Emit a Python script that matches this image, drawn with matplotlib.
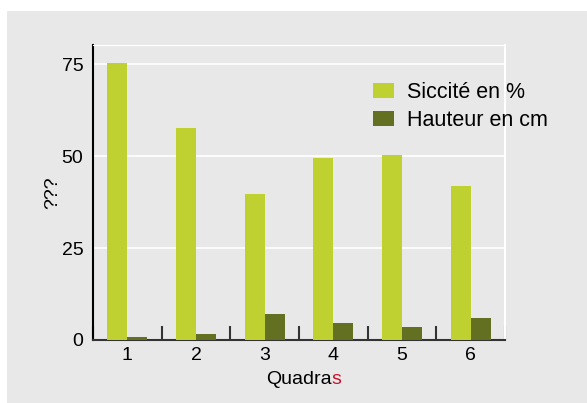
import matplotlib
matplotlib.use('Agg')
import matplotlib.pyplot as plt
import numpy as np
from matplotlib.patches import Rectangle

plt.rcParams['font.family'] = ['Liberation Sans', 'DejaVu Sans']

quadras = ['1', '2', '3', '4', '5', '6']
siccite = [75.3, 57.6, 39.7, 49.5, 50.3, 41.8]
hauteur = [0.8, 1.7, 7.2, 4.7, 3.5, 6.0]

fs = 14

fig = plt.figure(figsize=(5.87, 4.03), dpi=100)
fig.patch.set_facecolor('white')
# grey panel behind everything
fig.patches.append(Rectangle((7/587, 0), 1, 1 - 11/403, transform=fig.transFigure,
                             facecolor='#e8e8e8', edgecolor='none', zorder=-10))

ax = fig.add_axes([93/587, 1 - 340/403, (505 - 93)/587, (340 - 45)/403])
ax.set_facecolor('#e8e8e8')

x = np.arange(len(quadras))
w = 0.29
ax.bar(x - w/2, siccite, w, color='#bfd130', label='Siccité en %', zorder=3)
ax.bar(x + w/2, hauteur, w, color='#647021', label='Hauteur en cm', zorder=3)

ax.set_xlim(-0.5, len(quadras) - 0.5)
ax.set_ylim(0, 80.2)
ax.set_yticks([0, 25, 50, 75])
ax.tick_params(axis='y', length=0, labelsize=fs, pad=7)
ax.yaxis.grid(True, color='white', linewidth=1.2, zorder=0)

ax.set_xticks(np.arange(-0.5, len(quadras), 1))
ax.set_xticklabels([])
ax.set_xticks(x, minor=True)
ax.set_xticklabels(quadras, minor=True)
ax.tick_params(axis='x', which='major', direction='in', length=10, width=1.5, color='#333333')
ax.tick_params(axis='x', which='minor', length=0, labelsize=fs, pad=5)

ax.spines['left'].set_color('black')
ax.spines['left'].set_linewidth(1.5)
ax.spines['bottom'].set_color('#333333')
ax.spines['bottom'].set_linewidth(1.5)
ax.spines['top'].set_color('white')
ax.spines['right'].set_color('white')
ax.spines['right'].set_linewidth(1.5)

ax.set_ylabel('???', fontsize=fs, labelpad=0.5)

leg = fig.legend(loc='upper left', bbox_to_anchor=(373/587, 1 - 82/403), frameon=False, fontsize=15.5,
                 borderpad=0, borderaxespad=0,
                 handlelength=0.98, handleheight=0.65, handletextpad=0.6, labelspacing=0.33)

# x label with a red final letter
fig.canvas.draw()
t1 = fig.text(299/587, 1 - 380/403, 'Quadra', fontsize=fs, ha='center', va='center')
fig.canvas.draw()
bb = t1.get_window_extent()
fig.text(bb.x1 / fig.bbox.width, 1 - 380/403, 's', fontsize=fs, ha='left', va='center', color='#c8102e')

fig.savefig('out.png', dpi=100)
